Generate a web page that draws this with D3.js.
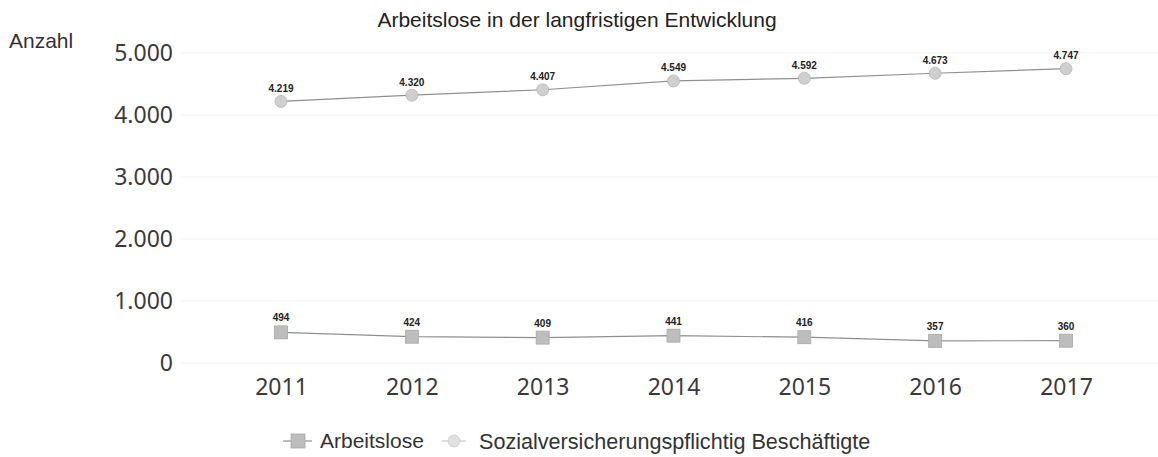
<!DOCTYPE html>
<html><head><meta charset="utf-8">
<script src="https://cdn.jsdelivr.net/npm/d3@7"></script>
<style>body{margin:0;background:#fff}svg{display:block}</style>
</head><body>
<svg id="c" width="1158" height="457"></svg>
<script>
const years = ["2011","2012","2013","2014","2015","2016","2017"];
const arbeitslose = [494,424,409,441,416,357,360];
const beschaeftigte = [4219,4320,4407,4549,4592,4673,4747];
const yTicks = [0,1000,2000,3000,4000,5000];
const seriesNames = ["Arbeitslose","Sozialversicherungspflichtig Beschäftigte"];

const svg = d3.select("#c");
const fmt = v => d3.format(",")(v).replace(/,/g,".");
const x = d3.scalePoint().domain(years).range([281,1066]);
const y = d3.scaleLinear().domain([0,5000]).range([363,53]);

// grid
svg.append("g").selectAll("line").data(yTicks).join("line")
  .attr("x1",180).attr("x2",1158).attr("y1",d=>y(d)).attr("y2",d=>y(d))
  .attr("stroke","#f3f3f3").attr("stroke-width",1);

// y axis labels
const ya = svg.append("g").attr("transform","translate(173,0)")
  .call(d3.axisLeft(y).tickValues(yTicks).tickFormat(fmt).tickSize(0).tickPadding(0));
ya.select(".domain").remove();
ya.selectAll("text").attr("font-family","Noto Sans").attr("font-size",23).attr("fill","#3a3a3a").attr("dy","0.34em");

// x axis labels
const xa = svg.append("g").attr("transform","translate(0,387)")
  .call(d3.axisBottom(x).tickSize(0).tickPadding(0));
xa.select(".domain").remove();
xa.selectAll("text").attr("font-family","Noto Sans").attr("font-size",23).attr("fill","#3a3a3a").attr("dy","0.34em");

// title
svg.append("text").attr("x",577).attr("y",27).attr("text-anchor","middle")
  .attr("font-family","Liberation Sans").attr("font-size",21).attr("fill","#222")
  .text("Arbeitslose in der langfristigen Entwicklung");
svg.append("text").attr("x",9).attr("y",48)
  .attr("font-family","Liberation Sans").attr("font-size",21).attr("fill","#333").text("Anzahl");

const line = d3.line().x((d,i)=>x(years[i])).y(d=>y(d));
const lineColor = "#8f8f8f";

function drawSeries(data, shape){
  svg.append("path").datum(data).attr("d",line).attr("fill","none")
    .attr("stroke",lineColor).attr("stroke-width",1.2);
  const g = svg.append("g");
  if(shape==="square"){
    g.selectAll("rect").data(data).join("rect")
      .attr("x",(d,i)=>x(years[i])-6.5).attr("y",d=>y(d)-6.5).attr("width",13).attr("height",13)
      .attr("fill","#bdbdbd").attr("stroke","#a8a8a8").attr("stroke-width",0.8);
  } else {
    g.selectAll("circle").data(data).join("circle")
      .attr("cx",(d,i)=>x(years[i])).attr("cy",d=>y(d)).attr("r",6)
      .attr("fill","#cfcfcf").attr("stroke","#b5b5b5").attr("stroke-width",0.8);
  }
  g.selectAll("text").data(data).join("text")
    .attr("x",(d,i)=>x(years[i])).attr("y",d=>y(d)-(shape==="square"?11:9.5)).attr("text-anchor","middle")
    .attr("font-family","Liberation Sans").attr("font-weight","bold").attr("font-size",10).attr("fill","#222")
    .text(fmt);
}
drawSeries(arbeitslose,"square");
drawSeries(beschaeftigte,"circle");

// legend
const lg = svg.append("g").attr("transform","translate(0,441)");
lg.append("line").attr("x1",283).attr("x2",312).attr("stroke",lineColor).attr("stroke-width",1.2);
lg.append("rect").attr("x",291).attr("y",-7).attr("width",14).attr("height",14).attr("fill","#bdbdbd").attr("stroke","#a8a8a8").attr("stroke-width",0.8);
lg.append("text").attr("x",320).attr("y",0).attr("dy","0.35em").attr("font-family","Liberation Sans").attr("font-size",21).attr("fill","#333").text(seriesNames[0]);
lg.append("line").attr("x1",442).attr("x2",466).attr("stroke","#c8c8c8").attr("stroke-width",1.2);
lg.append("circle").attr("cx",454).attr("cy",0).attr("r",6).attr("fill","#e0e0e0").attr("stroke","#cccccc").attr("stroke-width",0.8);
lg.append("text").attr("x",479).attr("y",0).attr("dy","0.35em").attr("font-family","Liberation Sans").attr("font-size",21.6).attr("fill","#333").text(seriesNames[1]);
</script>
</body></html>
